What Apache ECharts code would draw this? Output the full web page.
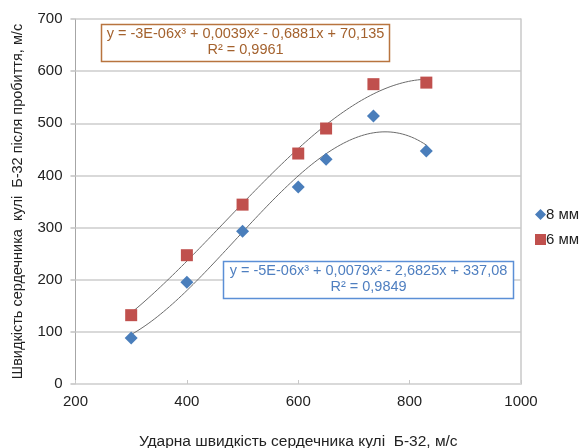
<!DOCTYPE html>
<html>
<head>
<meta charset="utf-8">
<script src="https://cdn.jsdelivr.net/npm/echarts@6/dist/echarts.min.js"></script>
<style>
html,body{margin:0;padding:0;background:#fff;}
#chart{width:585px;height:448px;}
</style>
</head>
<body>
<div id="chart"></div>
<script>
// Data
var xValues = [300, 400, 500, 600, 650, 735, 830];
var series8mm = [88, 195, 293, 378, 431, 514, 447];
var series6mm = [132, 247, 344, 442, 490, 575, 578];
var xTicks = [200, 400, 600, 800, 1000];
var yTicks = [0, 100, 200, 300, 400, 500, 600, 700];
var names = ['8 мм', '6 мм'];
var eq6 = ['y = -3E-06x³ + 0,0039x² - 0,6881x + 70,135', 'R² = 0,9961'];
var eq8 = ['y = -5E-06x³ + 0,0079x² - 2,6825x + 337,08', 'R² = 0,9849'];

// least-squares cubic trendline (as in the spreadsheet) computed from the data
function cubicFit(xs, ys) {
  var n = 4, A = [], b = [];
  for (var i = 0; i < n; i++) { A.push([0,0,0,0]); b.push(0); }
  for (var k = 0; k < xs.length; k++) {
    var t = xs[k] / 1000;
    for (var i = 0; i < n; i++) {
      for (var j = 0; j < n; j++) A[i][j] += Math.pow(t, i + j);
      b[i] += ys[k] * Math.pow(t, i);
    }
  }
  for (var c = 0; c < n; c++) {
    var p = c;
    for (var r = c + 1; r < n; r++) if (Math.abs(A[r][c]) > Math.abs(A[p][c])) p = r;
    var tmp = A[c]; A[c] = A[p]; A[p] = tmp; var tb = b[c]; b[c] = b[p]; b[p] = tb;
    for (var r = c + 1; r < n; r++) {
      var f = A[r][c] / A[c][c];
      for (var j = c; j < n; j++) A[r][j] -= f * A[c][j];
      b[r] -= f * b[c];
    }
  }
  var coef = [0,0,0,0];
  for (var r = n - 1; r >= 0; r--) {
    var s = b[r];
    for (var j = r + 1; j < n; j++) s -= A[r][j] * coef[j];
    coef[r] = s / A[r][r];
  }
  return function (x) { var t = x / 1000; return coef[0] + coef[1]*t + coef[2]*t*t + coef[3]*t*t*t; };
}
function trend(xs, ys) {
  var f = cubicFit(xs, ys), out = [];
  var x0 = xs[0], x1 = xs[xs.length - 1];
  for (var i = 0; i <= 100; i++) { var x = x0 + (x1 - x0) * i / 100; out.push([x, f(x)]); }
  return out;
}
function pairs(xs, ys) { return xs.map(function (x, i) { return [x, ys[i]]; }); }

var chart = echarts.init(document.getElementById('chart'));
var font = 'Liberation Sans, Arial, sans-serif';
chart.setOption({
  animation: false,
  textStyle: { fontFamily: font },
  grid: { left: 75.5, right: 64, top: 19, bottom: 64, containLabel: false, outerBoundsMode: 'none' },
  legend: {
    orient: 'vertical', left: 530, top: 202, itemGap: 10, itemWidth: 11, itemHeight: 11,
    textStyle: { fontSize: 15, color: '#222', fontFamily: font, padding: [0, 0, 0, -5] },
    data: [{ name: names[0], icon: 'diamond', itemStyle: {color:'#4a7ebb'} }, { name: names[1], icon: 'rect', itemStyle:{color:'#c0504d'} }]
  },
  xAxis: {
    type: 'value', min: xTicks[0], max: xTicks[xTicks.length - 1], interval: 200,
    name: 'Ударна швидкість сердечника кулі  Б-32, м/с', nameLocation: 'middle', nameGap: 50,
    nameTextStyle: { fontSize: 15.5, color: '#222', fontFamily: font },
    axisLine: { show: true, lineStyle: { color: '#d9d9d9', width: 2 } },
    axisTick: { show: true, length: 4, inside: true, lineStyle: { color: '#c8c8c8' } },
    axisLabel: { fontSize: 15, color: '#222', margin: 10, fontFamily: font, formatter: function (v) { return String(v); } },
    splitLine: { show: false }
  },
  yAxis: [{
    type: 'value', min: yTicks[0], max: yTicks[yTicks.length - 1], interval: 100,
    name: 'Швидкість сердечника  кулі  Б-32 після пробиття, м/с', nameLocation: 'middle', nameGap: 50,
    nameTextStyle: { fontSize: 14.5, color: '#222', fontFamily: font },
    axisLine: { show: true, lineStyle: { color: '#a6a6a6', width: 1 } },
    axisTick: { show: true, length: 5, lineStyle: { color: '#d0d0d0', width: 2 } },
    axisLabel: { fontSize: 15, color: '#222', margin: 13, fontFamily: font, formatter: function (v) { return String(v); } },
    splitLine: { show: true, lineStyle: { color: '#d9d9d9', width: 2 } }
  }, {
    type: 'value', position: 'right', min: 0, max: 700, interval: 100,
    axisLine: { show: true, lineStyle: { color: '#c8c8c8', width: 1.5 } },
    axisTick: { show: false }, axisLabel: { show: false }, splitLine: { show: false }
  }],
  series: [
    { type: 'line', data: trend(xValues, series8mm), showSymbol: false, symbol: 'none', silent: true,
      lineStyle: { color: '#6b6b6b', width: 1 }, z: 2 },
    { type: 'line', data: trend(xValues, series6mm), showSymbol: false, symbol: 'none', silent: true,
      lineStyle: { color: '#6b6b6b', width: 1 }, z: 2 },
    { name: names[0], type: 'scatter', data: pairs(xValues, series8mm), symbol: 'diamond', symbolSize: 13,
      itemStyle: { color: '#4a7ebb', opacity: 1 }, z: 3 },
    { name: names[1], type: 'scatter', data: pairs(xValues, series6mm), symbol: 'rect', symbolSize: 12,
      itemStyle: { color: '#c0504d', opacity: 1 }, z: 3 }
  ],
  graphic: [
    { type: 'rect', shape: { x: 101.5, y: 24.5, width: 288, height: 37 }, style: { fill: '#fff', stroke: '#b8743f', lineWidth: 1.5 }, z: 10 },
    { type: 'text', x: 245.5, y: 26, style: { text: eq6.join('\n'), fill: '#a4622e', font: '14.5px ' + font, align: 'center', lineHeight: 16 }, z: 11 },
    { type: 'rect', shape: { x: 223.5, y: 261.5, width: 290, height: 37 }, style: { fill: '#fff', stroke: '#5b8fd6', lineWidth: 1.5 }, z: 10 },
    { type: 'text', x: 368.5, y: 263, style: { text: eq8.join('\n'), fill: '#4f7fc0', font: '14.5px ' + font, align: 'center', lineHeight: 16 }, z: 11 }
  ]
});
</script>
</body>
</html>
